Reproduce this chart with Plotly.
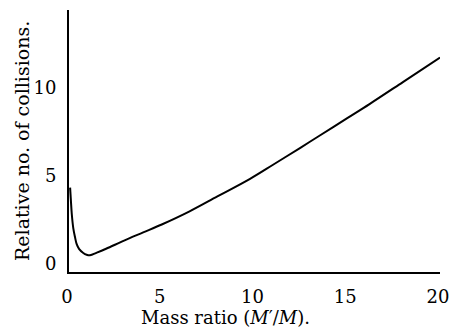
import plotly.graph_objects as go

mass_ratio = [0.06, 0.1, 0.15, 0.23, 0.32, 0.41, 0.55, 0.77, 0.95, 1.13, 1.5, 2, 3, 4, 5,
              6.5, 8, 9.76, 11, 12.45, 13.5, 15, 16.2, 18, 20]
rel_collisions = [4.3, 3.6, 2.8, 2.0, 1.5, 1.1, 0.8, 0.58, 0.48, 0.45, 0.6, 0.82, 1.3, 1.75, 2.2,
                  2.95, 3.8, 4.8, 5.6, 6.55, 7.25, 8.25, 9.05, 10.3, 11.7]
x_ticks = [0, 5, 10, 15, 20]
y_ticks = [0, 5, 10]
x_title = "Mass ratio (<i>M</i>′/<i>M</i>)."
y_title = "Relative no. of collisions."

FONT = "DejaVu Serif, Liberation Serif, serif"

fig = go.Figure()
fig.add_trace(go.Scatter(x=mass_ratio, y=rel_collisions, mode="lines",
                         line=dict(color="black", width=2, shape="spline", smoothing=1.0),
                         showlegend=False, hoverinfo="skip", cliponaxis=False))

fig.update_layout(
    width=451, height=330,
    margin=dict(l=69, r=11, t=10, b=58, autoexpand=False),
    paper_bgcolor="white", plot_bgcolor="white",
    font=dict(family=FONT, size=18, color="black"),
    xaxis=dict(range=[0, 20], tickvals=x_ticks, ticktext=[str(v) for v in x_ticks],
               showline=True, linecolor="black", linewidth=2, showgrid=False,
               zeroline=False, ticks="", ticklabelstandoff=7, ticklabelshift=-2,
               automargin=False),
    yaxis=dict(range=[-0.5, 14.4], tickvals=y_ticks, ticktext=[str(v) for v in y_ticks],
               showline=True, linecolor="black", linewidth=2, showgrid=False,
               zeroline=False, ticks="", ticklabelstandoff=7, automargin=False),
    annotations=[
        dict(text=x_title, xref="paper", yref="paper", x=0.4218, y=-0.1718,
             xanchor="center", yanchor="middle", showarrow=False,
             font=dict(size=18)),
        dict(text=y_title, xref="paper", yref="paper", x=-0.1267, y=0.5,
             xanchor="center", yanchor="middle", showarrow=False, textangle=-90,
             font=dict(size=19)),
    ],
)

fig.write_html(
    "out.html",
    config={"displayModeBar": False},
    post_script="document.body.style.margin='0';document.body.style.overflow='hidden';",
)
